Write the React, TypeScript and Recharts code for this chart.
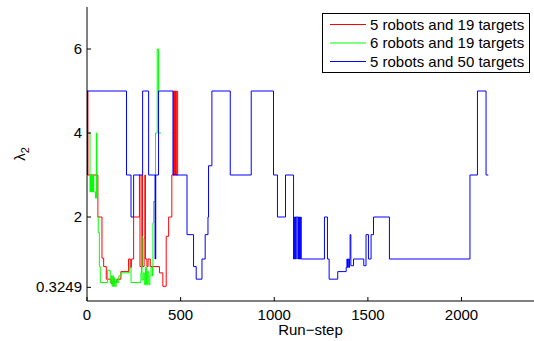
import { Line, LineChart, XAxis, YAxis } from "recharts";

const FONT = "'Liberation Sans', Arial, Helvetica, sans-serif";

// 5 robots and 19 targets
const redX = [0, 5, 58, 80, 89, 103, 128, 140, 146, 160, 181, 222, 231, 237, 249, 280, 283, 293, 296, 305, 309, 312, 320, 326, 338, 387, 405, 423, 436, 453, 462, 468, 470, 472, 474, 477, 484];
const redY = [5, 3, 2, 1.02, 0.82, 0.52, 0.42, 0.52, 0.45, 0.52, 0.7, 1.0, 0.8, 1.0, 2, 3, 0.82, 3, 0.82, 1.5, 3, 1.0, 0.82, 1.0, 0.82, 0.67, 0.35, 1.54, 2, 3, 5, 3, 5, 3, 5, 3, 5];

// 6 robots and 19 targets
const greenX = [0, 16, 19, 21, 24, 26, 29, 31, 34, 36, 39, 45, 50, 53, 56, 60, 66, 71, 110, 124, 130, 134, 138, 142, 146, 150, 156, 162, 170, 181, 226, 235, 288, 291, 294, 300, 306, 312, 318, 324, 330, 336, 342, 350, 352, 356, 364, 366, 375, 382, 395];
const greenY = [4, 2.6, 3, 2.6, 3, 2.6, 3, 2.6, 3, 2.6, 2.6, 2.45, 4, 2.45, 2, 1.63, 0.82, 0.44, 0.73, 0.44, 0.6, 0.35, 0.6, 0.35, 0.55, 0.35, 0.5, 0.44, 0.6, 0.67, 0.79, 0.44, 0.67, 1.54, 0.5, 0.67, 0.39, 0.8, 0.39, 0.7, 0.39, 0.6, 0.8, 0.6, 1.86, 2.37, 2.37, 4, 6, 4, 4];

// 5 robots and 50 targets
const blueX = [0, 3, 211, 235, 249, 297, 329, 364, 365, 366, 367, 382, 459, 534, 569, 583, 614, 631, 646, 649, 667, 765, 877, 996, 1017, 1060, 1103, 1106, 1109, 1112, 1115, 1117, 1126, 1129, 1132, 1135, 1138, 1141, 1144, 1268, 1284, 1293, 1339, 1384, 1388, 1391, 1394, 1398, 1402, 1405, 1409, 1423, 1478, 1490, 1503, 1517, 1530, 1615, 2045, 2085, 2131, 2143];
const blueY = [3, 5, 3, 2, 3, 5, 3, 1, 3, 1, 3, 5, 3, 1.58, 0.82, 0.52, 1.0, 1.58, 2, 3.22, 5, 3, 5, 3, 2, 3, 1, 2, 1, 2, 1, 2, 1, 2, 1, 2, 1, 2, 1, 2, 1, 0.52, 0.7, 0.8, 1, 0.8, 1, 0.8, 1, 1.58, 0.84, 1, 0.84, 1.58, 1, 1.58, 2, 1, 3, 5, 3, 3];

const xTicks = [0, 500, 1000, 1500, 2000];
const yTicks = [0.3249, 2, 4, 6];

const seriesNames = ["5 robots and 19 targets", "6 robots and 19 targets", "5 robots and 50 targets"];
const seriesColors = ["#ff0000", "#00ff00", "#0000ff"];

const toPoints = (xs: number[], ys: number[]) => xs.map((x, i) => ({ x, y: ys[i] }));

const series = [toPoints(redX, redY), toPoints(greenX, greenY), toPoints(blueX, blueY)];

function XTick({ x, y, payload }: any) {
  return (
    <g>
      <line x1={x} y1={y} x2={x} y2={y - 4} stroke="#000" strokeWidth={1} />
      <text x={x} y={y + 19} textAnchor="middle" fontSize={15} fontFamily={FONT} fill="#000">
        {payload.value}
      </text>
    </g>
  );
}

function YTick({ x, y, payload }: any) {
  return (
    <g>
      <line x1={x} y1={y} x2={x + 4} y2={y} stroke="#000" strokeWidth={1} />
      <text x={x - 5} y={y + 5} textAnchor="end" fontSize={15} fontFamily={FONT} fill="#000">
        {payload.value}
      </text>
    </g>
  );
}

function XLabel({ viewBox }: any) {
  const { x, y, width } = viewBox;
  return (
    <text x={x + width / 2} y={y + 34} textAnchor="middle" fontSize={15} fontFamily={FONT} fill="#000">
      Run−step
    </text>
  );
}

function YLabel({ viewBox }: any) {
  const { y, height } = viewBox;
  const cy = y + height / 2;
  return (
    <text x={25} y={cy} transform={`rotate(-90 25 ${cy})`} textAnchor="middle" fontSize={15} fontFamily={FONT} fill="#000">
      λ<tspan fontSize={11} dy={4}>2</tspan>
    </text>
  );
}

function LegendBox() {
  return (
    <svg width={208} height={60} style={{ position: "absolute", left: 322, top: 13 }}>
      <rect x={0.5} y={0.5} width={207} height={59} fill="#fff" stroke="#000" strokeWidth={1} />
      {seriesNames.map((name, i) => {
        const cy = 11.5 + i * 18.5;
        return (
          <g key={name}>
            <line x1={8} y1={cy} x2={44} y2={cy} stroke={seriesColors[i]} strokeWidth={1} />
            <text x={48} y={cy + 5} fontSize={15} fontFamily={FONT} fill="#000">
              {name}
            </text>
          </g>
        );
      })}
    </svg>
  );
}

export default function App() {
  return (
    <div style={{ position: "absolute", left: 0, top: 0, width: 534, height: 341, background: "#fff" }}>
      <LineChart width={534} height={341} margin={{ top: 7, right: 0, bottom: 0, left: 0 }}>
        <XAxis
          type="number"
          dataKey="x"
          domain={[0, 2387]}
          ticks={xTicks}
          allowDataOverflow
          height={40}
          tickSize={0}
          tickMargin={0}
          tickLine={false}
          tick={<XTick />}
          axisLine={{ stroke: "#000", strokeWidth: 1 }}
          label={<XLabel />}
        />
        <YAxis
          type="number"
          dataKey="y"
          domain={[0, 7]}
          ticks={yTicks}
          allowDataOverflow
          width={87}
          tickSize={0}
          tickMargin={0}
          tickLine={false}
          tick={<YTick />}
          axisLine={{ stroke: "#000", strokeWidth: 1 }}
          label={<YLabel />}
        />
        {series.map((data, i) => (
          <Line
            key={seriesNames[i]}
            data={data}
            dataKey="y"
            name={seriesNames[i]}
            type="stepAfter"
            stroke={seriesColors[i]}
            strokeWidth={1}
            dot={false}
            activeDot={false}
            isAnimationActive={false}
          />
        ))}
      </LineChart>
      <LegendBox />
    </div>
  );
}
